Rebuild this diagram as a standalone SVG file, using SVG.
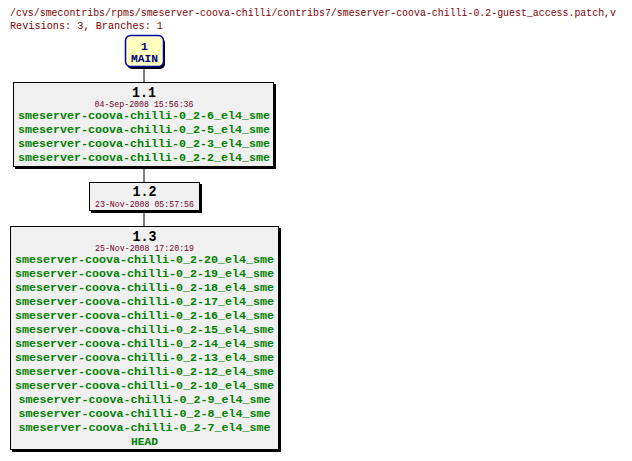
<svg xmlns="http://www.w3.org/2000/svg" width="632" height="461" viewBox="0 0 632 461">
<style>
.hdr{font-family:"Liberation Mono","DejaVu Sans Mono",monospace;font-size:10.2px;fill:#800000}
.box{fill:#f0f0f0;stroke:#000;stroke-width:1}
.sh{fill:#000}
.title{font-family:"Liberation Mono","DejaVu Sans Mono",monospace;font-size:14px;font-weight:bold;fill:#000;text-anchor:middle}
.date{font-family:"Liberation Mono","DejaVu Sans Mono",monospace;font-size:8.5px;fill:#70002a;text-anchor:middle}
.tag{font-family:"Liberation Mono","DejaVu Sans Mono",monospace;font-size:11.5px;font-weight:bold;fill:#008000;text-anchor:middle}
.br{fill:#ffffc0;stroke:#0000b0;stroke-width:1.5}
.brt{font-family:"Liberation Mono","DejaVu Sans Mono",monospace;font-size:11.5px;font-weight:bold;fill:#000080;text-anchor:middle}
.conn line{stroke:#000;stroke-width:1}
</style>
<rect width="632" height="461" fill="#fff"/>
<text class="hdr" x="10" y="16" textLength="606" lengthAdjust="spacingAndGlyphs">/cvs/smecontribs/rpms/smeserver-coova-chilli/contribs7/smeserver-coova-chilli-0.2-guest_access.patch,v</text>
<text class="hdr" x="10" y="29" textLength="153" lengthAdjust="spacingAndGlyphs">Revisions: 3, Branches: 1</text>
<g class="conn">
<line x1="144" y1="67" x2="144" y2="82"/>
<line x1="144" y1="167" x2="144" y2="182"/>
<line x1="144" y1="211" x2="144" y2="226"/>
</g>
<g id="main">
<rect class="sh" x="127" y="38" width="38" height="31" rx="5"/>
<rect class="br" x="125.5" y="35.5" width="38" height="31" rx="5"/>
<text class="brt" x="144.5" y="50">1</text>
<text class="brt" x="144.5" y="62" textLength="27" lengthAdjust="spacingAndGlyphs">MAIN</text>
</g>
<g id="r1.1">
<rect class="sh" x="15" y="84" width="261" height="85"/>
<rect class="box" x="13.5" y="82.5" width="260" height="84"/>
<text class="title" x="144" y="97" textLength="24" lengthAdjust="spacingAndGlyphs">1.1</text>
<text class="date" x="144" y="107" textLength="99" lengthAdjust="spacingAndGlyphs">04-Sep-2008 15:56:36</text>
<text class="tag" x="144" y="119" textLength="252" lengthAdjust="spacingAndGlyphs">smeserver-coova-chilli-0_2-6_el4_sme</text>
<text class="tag" x="144" y="133" textLength="252" lengthAdjust="spacingAndGlyphs">smeserver-coova-chilli-0_2-5_el4_sme</text>
<text class="tag" x="144" y="147" textLength="252" lengthAdjust="spacingAndGlyphs">smeserver-coova-chilli-0_2-3_el4_sme</text>
<text class="tag" x="144" y="161" textLength="252" lengthAdjust="spacingAndGlyphs">smeserver-coova-chilli-0_2-2_el4_sme</text>
</g>
<g id="r1.2">
<rect class="sh" x="91" y="184" width="111" height="29"/>
<rect class="box" x="89.5" y="182.5" width="110" height="28"/>
<text class="title" x="144.5" y="196" textLength="24" lengthAdjust="spacingAndGlyphs">1.2</text>
<text class="date" x="144.5" y="207" textLength="99" lengthAdjust="spacingAndGlyphs">23-Nov-2008 05:57:56</text>
</g>
<g id="r1.3">
<rect class="sh" x="12" y="228" width="269" height="224"/>
<rect class="box" x="10.5" y="226.5" width="268" height="223"/>
<text class="title" x="144.5" y="241" textLength="24" lengthAdjust="spacingAndGlyphs">1.3</text>
<text class="date" x="144.5" y="251" textLength="99" lengthAdjust="spacingAndGlyphs">25-Nov-2008 17:20:19</text>
<text class="tag" x="144.5" y="263" textLength="259" lengthAdjust="spacingAndGlyphs">smeserver-coova-chilli-0_2-20_el4_sme</text>
<text class="tag" x="144.5" y="277" textLength="259" lengthAdjust="spacingAndGlyphs">smeserver-coova-chilli-0_2-19_el4_sme</text>
<text class="tag" x="144.5" y="291" textLength="259" lengthAdjust="spacingAndGlyphs">smeserver-coova-chilli-0_2-18_el4_sme</text>
<text class="tag" x="144.5" y="305" textLength="259" lengthAdjust="spacingAndGlyphs">smeserver-coova-chilli-0_2-17_el4_sme</text>
<text class="tag" x="144.5" y="319" textLength="259" lengthAdjust="spacingAndGlyphs">smeserver-coova-chilli-0_2-16_el4_sme</text>
<text class="tag" x="144.5" y="333" textLength="259" lengthAdjust="spacingAndGlyphs">smeserver-coova-chilli-0_2-15_el4_sme</text>
<text class="tag" x="144.5" y="347" textLength="259" lengthAdjust="spacingAndGlyphs">smeserver-coova-chilli-0_2-14_el4_sme</text>
<text class="tag" x="144.5" y="361" textLength="259" lengthAdjust="spacingAndGlyphs">smeserver-coova-chilli-0_2-13_el4_sme</text>
<text class="tag" x="144.5" y="375" textLength="259" lengthAdjust="spacingAndGlyphs">smeserver-coova-chilli-0_2-12_el4_sme</text>
<text class="tag" x="144.5" y="389" textLength="259" lengthAdjust="spacingAndGlyphs">smeserver-coova-chilli-0_2-10_el4_sme</text>
<text class="tag" x="144.5" y="403" textLength="252" lengthAdjust="spacingAndGlyphs">smeserver-coova-chilli-0_2-9_el4_sme</text>
<text class="tag" x="144.5" y="417" textLength="252" lengthAdjust="spacingAndGlyphs">smeserver-coova-chilli-0_2-8_el4_sme</text>
<text class="tag" x="144.5" y="431" textLength="252" lengthAdjust="spacingAndGlyphs">smeserver-coova-chilli-0_2-7_el4_sme</text>
<text class="tag" x="144.5" y="445" textLength="27" lengthAdjust="spacingAndGlyphs">HEAD</text>
</g>
</svg>
